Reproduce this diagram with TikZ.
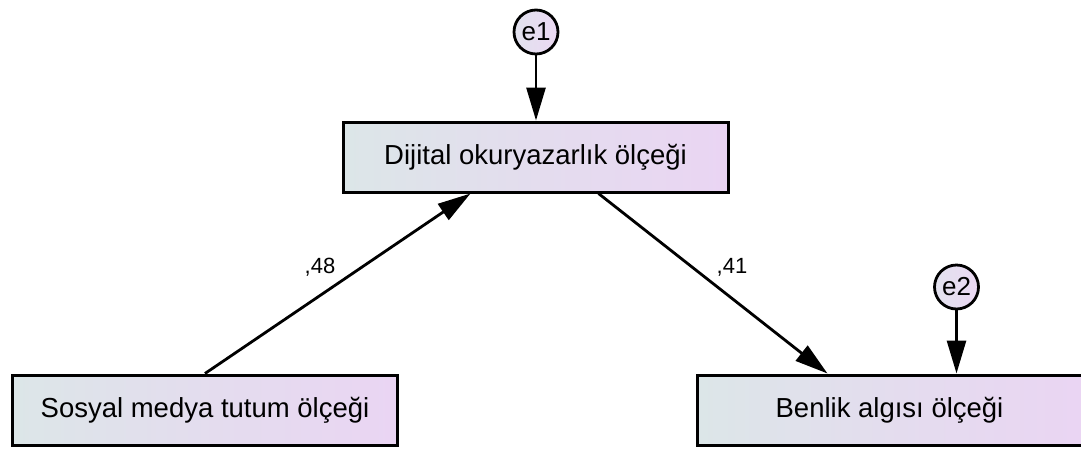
\documentclass[tikz,border=0pt]{standalone}
\usepackage{fontspec}
\setmainfont{Liberation Sans}
\usetikzlibrary{arrows.meta,calc}

\definecolor{boxleft}{HTML}{DCE6E8}
\definecolor{boxright}{HTML}{EAD5F3}
\definecolor{errleft}{HTML}{E2E2EE}
\definecolor{errright}{HTML}{EBD8F3}

\tikzset{
  observed/.style={draw=black, line width=3pt, left color=boxleft, right color=boxright,
    middle color=boxright!55!boxleft,
    minimum width=385pt, minimum height=70pt, inner sep=0pt,
    font=\fontsize{27.5}{32}\selectfont},
  errterm/.style={circle, draw=black, line width=2.8pt, left color=errleft, right color=errright,
    minimum size=44pt, inner sep=0pt, font=\fontsize{26}{30}\selectfont},
  path/.style={line width=2.8pt, -{Triangle[length=33pt, width=19pt]}},
  coef/.style={font=\fontsize{22}{26}\selectfont, inner sep=0pt}
}

\begin{document}
\begin{tikzpicture}[x=1pt, y=-1pt]
  \useasboundingbox (0,0) rectangle (1081,448);

  % observed variables
  \node[observed] (dij) at (535.5,157) {Dijital okuryazarlık ölçeği};
  \node[observed] (sos) at (205,410) {Sosyal medya tutum ölçeği};
  \node[observed] (ben) at (889.5,410) {Benlik algısı ölçeği};

  % error terms
  \node[errterm] (e1) at (536,32) {e1};
  \node[errterm] (e2) at (956.5,287) {e2};

  % regression paths
  \draw[path] (sos.north) -- ($(dij.south)+(-65,0)$);
  \draw[path] ($(dij.south)+(63,0)$) -- ($(ben.north)+(-62,0)$);
  \draw[path] (e1) -- (e1 |- dij.north);
  \draw[path] (e2) -- (e2 |- ben.north);

  % standardized coefficients
  \node[coef] (c1) at (320,267) {,48};
  \node[coef] (c2) at (732,267) {,41};
\end{tikzpicture}
\end{document}
